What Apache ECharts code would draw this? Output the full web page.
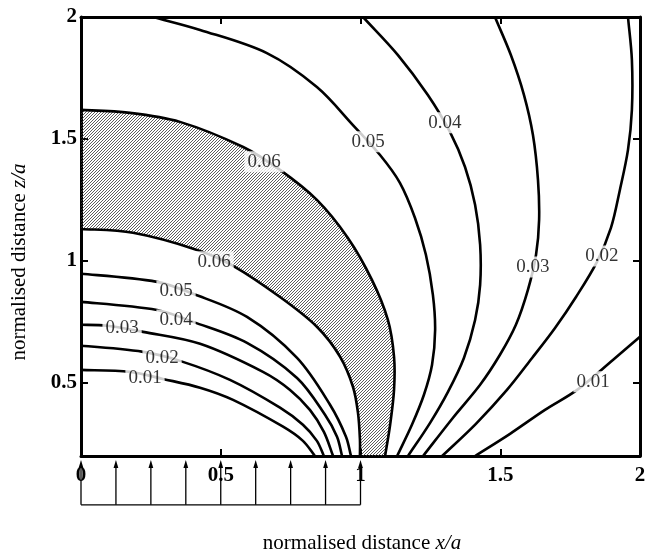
<!DOCTYPE html>
<html><head><meta charset="utf-8">
<script src="https://cdn.jsdelivr.net/npm/echarts@6/dist/echarts.min.js"></script>
<style>html,body{margin:0;padding:0;background:#fff}#c{width:645px;height:552px}</style>
</head><body><div id="c"></div>
<script>
// ---- axis ticks ----
const xTicks = [0, 0.5, 1, 1.5, 2];
const zTicks = [0.5, 1, 1.5, 2];
const zMin = 0.2;

// ---- contour lines [x/a, z/a] ----
const c001Left = [[0,0.553],[0.175,0.545],[0.293,0.516],[0.426,0.480],[0.544,0.430],[0.723,0.320],[0.794,0.262],[0.837,0.2]];
const c002Left = [[0,0.652],[0.222,0.627],[0.354,0.590],[0.533,0.512],[0.712,0.398],[0.794,0.328],[0.844,0.262],[0.869,0.2]];
const c003Left = [[0,0.738],[0.093,0.734],[0.222,0.709],[0.426,0.660],[0.651,0.545],[0.748,0.471],[0.819,0.389],[0.869,0.299],[0.902,0.2]];
const c004Left = [[0,0.832],[0.272,0.799],[0.401,0.750],[0.594,0.664],[0.773,0.520],[0.873,0.369],[0.916,0.279],[0.934,0.2]];
const c005Left = [[0,0.947],[0.272,0.914],[0.401,0.865],[0.594,0.770],[0.773,0.602],[0.891,0.410],[0.948,0.279],[0.966,0.2]];
const c006Inner = [[0,1.131],[0.186,1.115],[0.415,1.045],[0.544,0.980],[0.712,0.852],[0.844,0.730],[0.927,0.607],[0.973,0.484],[0.991,0.377],[0.998,0.266],[0.998,0.2]];
const c006Outer = [[0,1.619],[0.175,1.607],[0.354,1.570],[0.580,1.467],[0.712,1.373],[0.844,1.250],[0.955,1.094],[1.041,0.922],[1.098,0.758],[1.120,0.607],[1.120,0.471],[1.106,0.328],[1.088,0.2]];
const c005Right = [[0.258,2.0],[0.426,1.947],[0.665,1.852],[0.844,1.713],[0.973,1.557],[1.070,1.434],[1.141,1.320],[1.195,1.176],[1.234,1.025],[1.259,0.861],[1.267,0.717],[1.256,0.574],[1.227,0.451],[1.184,0.328],[1.131,0.2]];
const c004Right = [[1.009,2.0],[1.134,1.844],[1.241,1.680],[1.320,1.529],[1.374,1.385],[1.410,1.230],[1.428,1.066],[1.428,0.902],[1.410,0.758],[1.370,0.602],[1.313,0.463],[1.249,0.336],[1.170,0.2]];
const c003Right = [[1.481,2.0],[1.538,1.844],[1.585,1.680],[1.617,1.516],[1.635,1.332],[1.639,1.168],[1.628,1.025],[1.599,0.881],[1.556,0.738],[1.499,0.615],[1.428,0.492],[1.331,0.357],[1.224,0.2]];
const c002Right = [[1.957,2.0],[1.971,1.824],[1.971,1.619],[1.957,1.455],[1.928,1.291],[1.896,1.135],[1.846,0.996],[1.771,0.852],[1.696,0.725],[1.614,0.602],[1.524,0.471],[1.413,0.332],[1.292,0.2]];
const c001Right = [[2.0,0.689],[1.903,0.594],[1.775,0.471],[1.660,0.389],[1.535,0.291],[1.410,0.2]];

// ---- contour labels [x/a, z/a, text] ----
const contourLabels = [
  [0.655,1.406,'0.06'],[0.476,0.996,'0.06'],
  [0.340,0.877,'0.05'],[0.340,0.758,'0.04'],[0.147,0.725,'0.03'],
  [0.290,0.602,'0.02'],[0.229,0.520,'0.01'],
  [1.027,1.488,'0.05'],[1.302,1.566,'0.04'],[1.617,0.975,'0.03'],
  [1.864,1.020,'0.02'],[1.832,0.504,'0.01']
];

// ---- surface load arrows (x/a positions, acting at z/a = 0) ----
const loadX = [0,0.125,0.25,0.375,0.5,0.625,0.75,0.875,1];
const loadBase = [[0,0],[1,0]];

const contours = [c001Left,c002Left,c003Left,c004Left,c005Left,c006Inner,c006Outer,
                  c005Right,c004Right,c003Right,c002Right,c001Right];

// extend a curve slightly beyond the plot so clipped ends keep their tangent
function extend(pts) {
  const a = pts[0], b = pts[1], y = pts[pts.length-1], x = pts[pts.length-2];
  const start = a[0] === 0 ? [-0.06, a[1]] : [a[0] + (a[0]-b[0])*0.6, a[1] + (a[1]-b[1])*0.6];
  const end = [y[0] + (y[0]-x[0])*0.6, y[1] + (y[1]-x[1])*0.6];
  return [start].concat(pts, [end]);
}

// smooth path (chord-length Hermite spline) through pixel points
function splinePath(P, moveFirst) {
  const n = P.length;
  const d = (a, b) => Math.hypot(b[0]-a[0], b[1]-a[1]);
  const T = P.map((p, i) => {
    const a = P[Math.max(0, i-1)], b = P[Math.min(n-1, i+1)];
    const L = d(a, p) + d(p, b) || 1;
    return [(b[0]-a[0]) / L, (b[1]-a[1]) / L];
  });
  let s = (moveFirst ? 'M' : 'L') + P[0][0].toFixed(2) + ' ' + P[0][1].toFixed(2);
  for (let i = 0; i < n-1; i++) {
    const l = d(P[i], P[i+1]) / 3;
    const c1 = [P[i][0] + T[i][0]*l, P[i][1] + T[i][1]*l];
    const c2 = [P[i+1][0] - T[i+1][0]*l, P[i+1][1] - T[i+1][1]*l];
    s += ' C' + c1[0].toFixed(2) + ' ' + c1[1].toFixed(2) + ' ' + c2[0].toFixed(2) + ' ' + c2[1].toFixed(2) + ' ' + P[i+1][0].toFixed(2) + ' ' + P[i+1][1].toFixed(2);
  }
  return s;
}

// hatch pattern
const pc = document.createElement('canvas');
pc.width = 3; pc.height = 3;
const g = pc.getContext('2d');
g.strokeStyle = '#333'; g.lineWidth = 0.8;
g.beginPath();
g.moveTo(-1,1); g.lineTo(1,-1);
g.moveTo(0,3); g.lineTo(3,0);
g.moveTo(2,4); g.lineTo(4,2);
g.stroke();
const hatch = {image: pc, repeat: 'repeat'};

const SERIF = '"Liberation Serif", "DejaVu Serif", serif';

const series = [];
series.push({
  type:'custom', coordinateSystem:'cartesian2d', clip:true, silent:true, z:2,
  data:[[0,0]],
  renderItem:(params, api) => {
    const o = extend(c006Outer).map(p => api.coord(p));
    const i = extend(c006Inner).map(p => api.coord(p)).reverse();
    return {type:'path', shape:{pathData: splinePath(o, true) + ' ' + splinePath(i, false) + ' Z'},
            style:{fill:hatch, stroke:null}};
  }
});
contours.forEach(pts => {
  series.push({
    type:'custom', coordinateSystem:'cartesian2d', clip:true, silent:true, z:3,
    data:[[0,0]],
    renderItem:(params, api) => ({
      type:'path',
      shape:{pathData: splinePath(extend(pts).map(p => api.coord(p)), true)},
      style:{stroke:'#000', lineWidth:2.6, fill:null, lineJoin:'round'}
    })
  });
});
series.push({
  type:'scatter', z:5, silent:true, symbolSize:1, itemStyle:{color:'rgba(0,0,0,0)'},
  data: contourLabels,
  label:{show:true, position:'inside', formatter: p => p.value[2],
    color:'#000', fontFamily:SERIF, fontSize:19, backgroundColor:'#fff', padding:[1,3]}
});
series.push({
  type:'line', clip:false, silent:true, symbol:'none', z:4,
  data: loadBase, lineStyle:{color:'#000', width:1.3}
});
series.push({
  type:'custom', coordinateSystem:'cartesian2d', clip:false, silent:true, z:4,
  data: loadX.map(x => [x, 0]),
  renderItem:(params, api) => {
    const x = api.value(0);
    const base = api.coord([x, 0]);
    const top = api.coord([x, zMin]);
    const tipY = top[1] + 4;
    return {type:'group', children:[
      {type:'line', shape:{x1:base[0], y1:base[1], x2:base[0], y2:tipY+5}, style:{stroke:'#000', lineWidth:1.3}},
      {type:'polygon', shape:{points:[[base[0], tipY],[base[0]-2.4, tipY+8],[base[0]+2.4, tipY+8]]}, style:{fill:'#000'}}
    ]};
  }
});

const axisCommon = {
  type:'value', splitLine:{show:false},
  axisLine:{show:true, onZero:false, lineStyle:{color:'#000', width:3}},
  axisTick:{show:true, inside:true, length:7, lineStyle:{color:'#000', width:2}}
};
const labelStyle = {color:'#000', fontFamily:SERIF, fontWeight:'bold', fontSize:21};

const chart = echarts.init(document.getElementById('c'), null, {renderer:'canvas'});
chart.setOption({
  animation:false,
  backgroundColor:'#fff',
  grid:{left:81, right:5, top:17, bottom:96, containLabel:false, outerBoundsMode:'none'},
  xAxis:[
    Object.assign({}, axisCommon, {min:0, max:2, interval:0.5, position:'bottom',
      axisLabel:Object.assign({show:true, margin:9, showMinLabel:true, showMaxLabel:true}, labelStyle)}),
    Object.assign({}, axisCommon, {min:0, max:2, interval:0.5, position:'top', axisLabel:{show:false}})
  ],
  yAxis:[
    Object.assign({}, axisCommon, {min:zMin, max:2, position:'left',
      axisTick:Object.assign({}, axisCommon.axisTick, {customValues:zTicks}),
      axisLabel:Object.assign({show:true, margin:4, padding:[7,0,0,0], customValues:zTicks}, labelStyle)}),
    Object.assign({}, axisCommon, {min:zMin, max:2, position:'right',
      axisTick:Object.assign({}, axisCommon.axisTick, {customValues:zTicks}),
      axisLabel:{show:false}})
  ],
  graphic:[
    {type:'text', x:362, y:543, silent:true, style:{
      text:'{n|normalised distance }{i|x/a}', align:'center', verticalAlign:'middle',
      rich:{n:{fontFamily:SERIF, fontSize:21, fill:'#000'}, i:{fontFamily:SERIF, fontSize:21, fontStyle:'italic', fill:'#000'}}}},
    {type:'text', x:19, y:262, rotation:Math.PI/2, silent:true, style:{
      text:'{n|normalised distance }{i|z/a}', align:'center', verticalAlign:'middle',
      rich:{n:{fontFamily:SERIF, fontSize:21, fill:'#000'}, i:{fontFamily:SERIF, fontSize:21, fontStyle:'italic', fill:'#000'}}}}
  ],
  series: series
});
</script></body></html>
